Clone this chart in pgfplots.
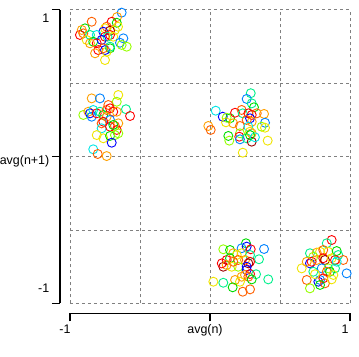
\documentclass[border=0pt]{standalone}
\usepackage{pgfplots}
\usepackage{pgfplotstable}
\pgfplotsset{compat=1.18}
\usepackage{fontspec}
\setmainfont{Liberation Sans}

\pgfplotstableread{
x y c
-0.631 0.980 8
-0.664 0.950 2
-0.845 0.918 1
-0.702 0.918 0
-0.666 0.911 5
-0.657 0.884 3
-0.893 0.873 5
-0.738 0.884 1
-0.750 0.873 3
-0.762 0.850 9
-0.714 0.857 10
-0.679 0.862 3
-0.929 0.828 0
-0.905 0.839 1
-0.857 0.828 6
-0.809 0.828 7
-0.750 0.816 0
-0.714 0.828 0
-0.732 0.816 6
-0.881 0.794 3
-0.834 0.782 5
-0.774 0.794 9
-0.691 0.816 3
-0.619 0.805 8
-0.643 0.775 8
-0.631 0.760 4
-0.595 0.748 4
-0.809 0.771 0
-0.857 0.771 2
-0.798 0.725 0
-0.821 0.703 2
-0.714 0.737 5
-0.750 0.725 9
-0.738 0.714 3
-0.750 0.657 3
-0.714 0.748 6
-0.762 0.737 1
-0.916 0.862 2
}\clusterA

\pgfplotstableread{
x y c
-0.845 0.396 2
-0.786 0.396 8
-0.655 0.419 3
-0.666 0.373 4
-0.726 0.351 1
-0.905 0.283 4
-0.869 0.305 2
-0.857 0.294 9
-0.834 0.317 7
-0.845 0.271 8
-0.809 0.294 0
-0.786 0.305 6
-0.762 0.283 5
-0.738 0.317 1
-0.714 0.328 0
-0.691 0.305 0
-0.666 0.305 2
-0.600 0.322 6
-0.571 0.276 0
-0.738 0.271 2
-0.714 0.249 8
-0.774 0.226 1
-0.762 0.237 0
-0.774 0.192 7
-0.714 0.203 0
-0.679 0.208 1
-0.655 0.226 2
-0.666 0.181 0
-0.691 0.215 5
-0.809 0.146 3
-0.762 0.124 3
-0.714 0.140 5
-0.679 0.146 4
-0.655 0.158 4
-0.702 0.094 9
-0.834 0.049 7
-0.802 0.017 1
-0.738 0.003 2
}\clusterB

\pgfplotstableread{
x y c
0.291 0.431 6
0.262 0.392 8
0.298 0.362 6
0.314 0.335 5
0.041 0.312 7
0.091 0.271 9
0.119 0.264 4
0.143 0.260 5
0.114 0.233 3
0.179 0.298 0
0.226 0.317 1
0.234 0.294 6
0.274 0.294 0
0.298 0.283 0
0.334 0.294 1
0.386 0.290 2
0.286 0.260 9
0.262 0.249 1
0.298 0.237 2
0.166 0.226 2
0.214 0.208 1
0.393 0.230 8
0.369 0.203 4
0.393 0.196 3
-0.012 0.208 2
0.005 0.181 1
0.274 0.203 7
0.286 0.169 3
0.298 0.158 2
0.214 0.158 4
0.131 0.140 5
0.138 0.108 4
0.209 0.135 0
0.214 0.117 8
0.262 0.124 6
0.298 0.101 10
0.321 0.131 7
0.412 0.108 3
0.234 0.026 3
0.286 0.146 5
}\clusterC

\pgfplotstableread{
x y c
0.095 -0.632 4
0.143 -0.637 5
0.257 -0.591 5
0.262 -0.614 9
0.226 -0.625 8
0.291 -0.632 0
0.386 -0.630 8
0.166 -0.659 2
0.191 -0.671 3
0.226 -0.659 3
0.286 -0.671 6
0.350 -0.700 6
0.119 -0.705 0
0.143 -0.693 5
0.202 -0.705 1
0.250 -0.705 2
0.286 -0.717 0
0.274 -0.728 10
0.095 -0.751 10
0.119 -0.739 2
0.155 -0.751 3
0.202 -0.751 4
0.262 -0.751 9
0.262 -0.773 9
0.250 -0.807 2
0.286 -0.800 0
0.274 -0.819 1
0.226 -0.819 2
0.329 -0.802 6
0.298 -0.837 5
0.416 -0.837 6
0.024 -0.853 3
0.095 -0.860 6
0.179 -0.841 2
0.214 -0.853 3
0.162 -0.891 5
0.234 -0.921 1
0.286 -0.905 1
0.084 -0.728 0
0.166 -0.717 1
}\clusterD

\pgfplotstableread{
x y c
0.869 -0.569 0
0.834 -0.591 6
0.714 -0.659 6
0.762 -0.655 2
0.786 -0.649 3
0.809 -0.637 1
0.845 -0.649 3
0.905 -0.644 5
0.738 -0.683 4
0.714 -0.728 9
0.726 -0.717 0
0.762 -0.705 2
0.809 -0.693 0
0.821 -0.705 10
0.869 -0.693 3
0.893 -0.705 0
0.916 -0.671 6
0.952 -0.705 1
0.905 -0.717 7
0.655 -0.762 3
0.738 -0.785 6
0.798 -0.762 8
0.845 -0.762 4
0.893 -0.762 6
0.857 -0.785 5
0.834 -0.785 1
0.976 -0.796 8
0.691 -0.841 1
0.774 -0.853 9
0.786 -0.841 8
0.809 -0.830 0
0.821 -0.864 1
0.869 -0.837 3
0.881 -0.807 3
0.786 -0.875 5
0.714 -0.898 4
0.750 -0.802 3
0.691 -0.717 2
}\clusterE

\pgfplotsset{
  ringscatter/.style={only marks, scatter, point meta=explicit, mark=o, mark size=4.5bp,
    scatter/use mapped color={draw=mapped color, fill=none},
    mark options={line width=0.9bp}},
}

\begin{document}
\begin{tikzpicture}
\begin{axis}[
  scale only axis,
  width=280bp, height=293.6bp,
  xmin=-1, xmax=1, ymin=-1, ymax=1,
  axis lines*=left,
  axis x line shift=10bp,
  axis y line shift=10bp,
  axis line style={-, black, line width=1.1bp},
  xtick={-1,0,1}, ytick={-1,0,1},
  minor xtick={-0.5,0.5}, minor ytick={-0.5,0.5},
  xticklabels={-1,avg(n),1},
  yticklabels={\smash{\raisebox{11bp}{-1}}, \smash{\raisebox{-7.5bp}{avg(n+1)}}, \smash{\raisebox{-12.5bp}{1}}},
  tick align=outside,
  major tick length=8bp, minor tick length=0bp,
  tick style={black, line width=1.1bp},
  grid=both,
  major grid style={black!50, line width=0.8bp, dash pattern=on 3bp off 3bp},
  minor grid style={black!50, line width=0.8bp, dash pattern=on 3bp off 3bp},
  every tick label/.append style={font=\fontsize{12.5}{15}\selectfont},
  xticklabel style={xshift=-5bp},
  yticklabel style={inner xsep=2.5bp},
  /pgf/number format/assume math mode=true,
  clip=false,
  colormap={rainbowish}{rgb255=(255,0,0) rgb255=(255,96,0) rgb255=(255,160,0) rgb255=(240,228,0) rgb255=(150,255,0) rgb255=(0,220,0) rgb255=(0,240,140) rgb255=(0,230,230) rgb255=(0,130,255) rgb255=(0,0,255) rgb255=(160,0,0)},
  point meta min=0, point meta max=10,
]
\addplot[ringscatter] table[meta=c] {\clusterA};
\addplot[ringscatter] table[meta=c] {\clusterB};
\addplot[ringscatter] table[meta=c] {\clusterC};
\addplot[ringscatter] table[meta=c] {\clusterD};
\addplot[ringscatter] table[meta=c] {\clusterE};
\end{axis}
\pgfresetboundingbox
\path[use as bounding box] ([shift={(-70bp,-53.7bp)}]current axis.south west) rectangle ([shift={(9bp,9.7bp)}]current axis.north east);
\end{tikzpicture}
\end{document}
